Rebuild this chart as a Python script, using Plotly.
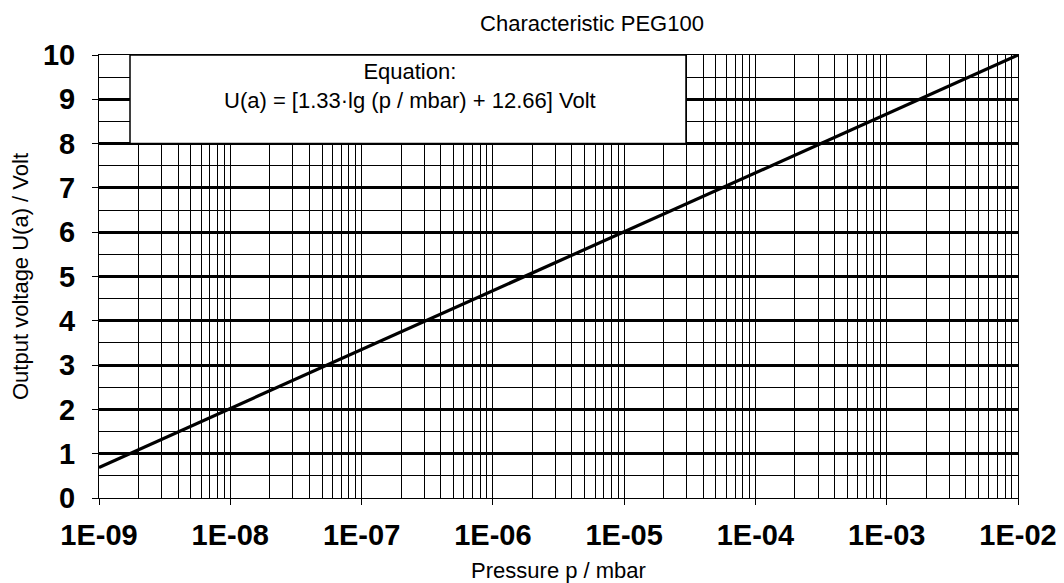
import plotly.graph_objects as go

# Data
pressure_mbar = [1e-9, 1e-2]
voltage_volt = [0.69, 10.0]
x_tick_vals = [1e-9, 1e-8, 1e-7, 1e-6, 1e-5, 1e-4, 1e-3, 1e-2]
x_tick_text = ["1E-09", "1E-08", "1E-07", "1E-06", "1E-05", "1E-04", "1E-03", "1E-02"]
y_tick_vals = [0, 1, 2, 3, 4, 5, 6, 7, 8, 9, 10]

FONT = "Arial, Liberation Sans, sans-serif"

# the page body has an 8px default margin, so the figure is laid out 8px smaller
W, H = 1056, 575
L, R, T, B = 91, 46, 47, 85
PW = W - L - R

fig = go.Figure()
fig.add_trace(go.Scatter(
    x=pressure_mbar, y=voltage_volt, mode="lines",
    line=dict(color="black", width=3.2), showlegend=False, hoverinfo="skip",
))

fig.update_layout(
    width=W, height=H,
    margin=dict(l=L, r=R, t=T, b=B, autoexpand=False),
    paper_bgcolor="white", plot_bgcolor="white",
    font=dict(family=FONT, color="black"),
    title=dict(text="Characteristic PEG100", x=584 / W, xanchor="center",
               y=1 - 15 / H, yanchor="middle", font=dict(size=22, family=FONT)),
)

fig.update_xaxes(
    type="log", range=[-9, -2], automargin=False,
    tickvals=x_tick_vals, ticktext=x_tick_text,
    tickfont=dict(size=29, family=FONT, weight="bold"),
    ticks="outside", ticklen=6, tickwidth=1, tickcolor="black",
    ticklabelstandoff=5,
    showgrid=True, gridcolor="black", gridwidth=1,
    minor=dict(dtick="D1", showgrid=True, gridcolor="black", gridwidth=1, ticks=""),
    showline=True, linecolor="black", linewidth=1, mirror=True,
    zeroline=False,
    title=dict(text="Pressure p / mbar", font=dict(size=22, family=FONT), standoff=18),
)

fig.update_yaxes(
    range=[0, 10], tickvals=y_tick_vals, automargin=False,
    tickfont=dict(size=29, family=FONT, weight="bold"),
    ticks="outside", ticklen=6, tickwidth=1, tickcolor="black",
    ticklabelstandoff=11,
    showgrid=True, gridcolor="black", gridwidth=2.5,
    minor=dict(dtick=0.5, showgrid=True, gridcolor="black", gridwidth=1, ticks=""),
    showline=True, linecolor="black", linewidth=1, mirror=True,
    zeroline=False,
    title=dict(text="Output voltage U(a) / Volt", font=dict(size=22, family=FONT), standoff=15),
)

# Equation box
fig.add_shape(type="rect", xref="paper", yref="y",
              x0=31 / PW, x1=587 / PW, y0=8, y1=10,
              fillcolor="white", line=dict(color="black", width=1.5), layer="above")
fig.add_annotation(xref="paper", yref="y", x=311 / PW, y=9.31,
                   text="Equation:<br>U(a) = [1.33·lg (p / mbar) + 12.66] Volt",
                   showarrow=False, align="center", xanchor="center", yanchor="middle",
                   font=dict(size=22, family=FONT))

fig.write_html("out.html")
